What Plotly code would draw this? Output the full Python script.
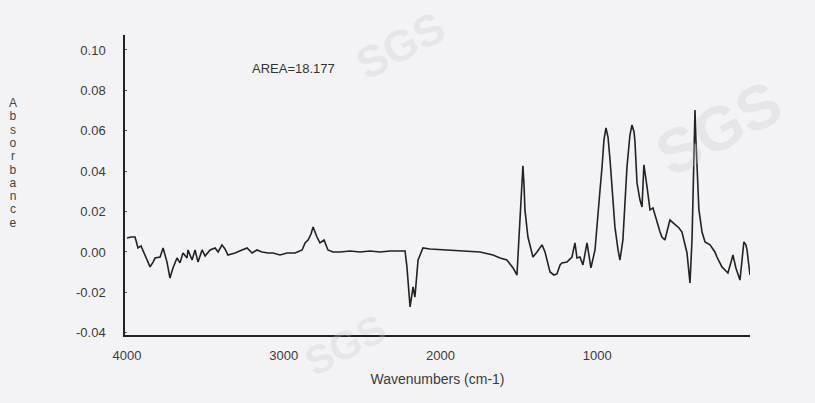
import plotly.graph_objects as go

# Wavenumber (cm-1) and absorbance values
wavenumbers = [4000, 3974, 3949, 3930, 3911, 3885, 3853, 3834, 3821, 3789, 3770, 3745, 3726, 3707,
               3681, 3662, 3643, 3617, 3611, 3585, 3566, 3547, 3521, 3502, 3470, 3438, 3419, 3394,
               3375, 3356, 3311, 3266, 3234, 3202, 3171, 3139, 3100, 3069, 3024, 2979, 2928, 2883,
               2864, 2845, 2826, 2813, 2801, 2788, 2769, 2743, 2718, 2686, 2641, 2577, 2513, 2450,
               2386, 2322, 2258, 2226, 2214, 2194, 2175, 2163, 2143, 2112, 2067, 1939, 1831, 1748,
               1665, 1620, 1576, 1537, 1512, 1499, 1486, 1474, 1467, 1461, 1442, 1422, 1410, 1384,
               1352, 1333, 1314, 1301, 1276, 1257, 1237, 1225, 1193, 1161, 1142, 1129, 1110, 1091,
               1065, 1040, 1014, 995, 982, 969, 957, 944, 931, 918, 906, 887, 867, 855, 836, 823,
               810, 791, 778, 765, 759, 746, 727, 714, 702, 682, 663, 644, 619, 599, 587, 568, 536,
               504, 478, 459, 440, 427, 408, 395, 389, 376, 370, 363, 351, 331, 312, 280, 249, 236,
               204, 185, 166, 146, 134, 115, 102, 89, 76, 64, 51, 44, 25]
absorbance = [0.0069, 0.0074, 0.0074, 0.0020, 0.0030, -0.0015, -0.0074, -0.0050, -0.0030, -0.0025,
              0.0020, -0.0050, -0.0129, -0.0079, -0.0030, -0.0054, -0.0005, -0.0030, 0.0010,
              -0.0040, 0.0010, -0.0050, 0.0010, -0.0020, 0.0010, 0.0020, 0.0000, 0.0035, 0.0015,
              -0.0015, -0.0005, 0.0010, 0.0020, -0.0005, 0.0010, 0.0000, -0.0005, -0.0005, -0.0015,
              -0.0005, -0.0005, 0.0010, 0.0045, 0.0059, 0.0089, 0.0124, 0.0099, 0.0074, 0.0045,
              0.0059, 0.0010, 0.0000, 0.0000, 0.0005, 0.0000, 0.0005, 0.0000, 0.0005, 0.0005,
              0.0005, -0.0074, -0.0272, -0.0173, -0.0223, -0.0040, 0.0020, 0.0015, 0.0010, 0.0005,
              0.0000, -0.0015, -0.0030, -0.0040, -0.0079, -0.0114, 0.0059, 0.0208, 0.0426, 0.0332,
              0.0208, 0.0074, 0.0010, -0.0025, 0.0000, 0.0035, 0.0000, -0.0064, -0.0099, -0.0114,
              -0.0109, -0.0064, -0.0054, -0.0050, -0.0025, 0.0045, -0.0030, -0.0025, -0.0064,
              0.0045, -0.0079, 0.0010, 0.0208, 0.0307, 0.0421, 0.0554, 0.0614, 0.0569, 0.0455,
              0.0342, 0.0124, 0.0010, -0.0040, 0.0059, 0.0257, 0.0421, 0.0579, 0.0629, 0.0594,
              0.0545, 0.0342, 0.0257, 0.0223, 0.0431, 0.0322, 0.0208, 0.0218, 0.0144, 0.0099,
              0.0074, 0.0059, 0.0158, 0.0134, 0.0119, 0.0099, 0.0035, -0.0005, -0.0153, 0.0059,
              0.0257, 0.0703, 0.0554, 0.0421, 0.0208, 0.0099, 0.0050, 0.0035, 0.0000, -0.0025,
              -0.0074, -0.0089, -0.0104, -0.0050, -0.0015, -0.0079, -0.0114, -0.0139, -0.0040,
              0.0050, 0.0035, 0.0010, -0.0114]

x_ticks = [4000, 3000, 2000, 1000]
y_ticks = [0.10, 0.08, 0.06, 0.04, 0.02, 0.00, -0.02, -0.04]
y_tick_labels = ["0.10", "0.08", "0.06", "0.04", "0.02", "0.00", "-0.02", "-0.04"]
y_title = "Absorbance"

bg = "#f3f3f5"
font_family = "Liberation Sans, Arial, sans-serif"

fig = go.Figure()
fig.add_trace(go.Scatter(x=wavenumbers, y=absorbance, mode="lines",
                         line=dict(color="#222222", width=1.6), showlegend=False))

fig.update_layout(
    width=815, height=403,
    margin=dict(l=125, r=65, t=35, b=68),
    paper_bgcolor=bg, plot_bgcolor=bg,
    font=dict(family=font_family, color="#3a3a3a", size=13),
    xaxis=dict(range=[4013, 25], tickvals=x_ticks, ticktext=[str(v) for v in x_ticks],
               showgrid=False, zeroline=False, showline=True, linecolor="#222", linewidth=1.5,
               ticks="", ticklen=0, tickfont=dict(size=13), ticklabelstandoff=8,
               title=dict(text="Wavenumbers (cm-1)", font=dict(size=14), standoff=12)),
    yaxis=dict(range=[-0.0411, 0.1074], tickvals=y_ticks, ticktext=y_tick_labels,
               showgrid=False, zeroline=False, showline=True, linecolor="#222", linewidth=1.5,
               ticks="inside", ticklen=2, tickcolor="#555", tickfont=dict(size=13),
               ticklabelstandoff=15),
)

# faint watermarks (drawn first so they sit beneath the other texts)
for wx, wy, ws in [(400, 46, 44), (718, 128, 62), (345, 345, 40)]:
    fig.add_annotation(xref="paper", yref="paper", x=(wx - 125) / 625, y=(335 - wy) / 300,
                       xanchor="center", yanchor="middle",
                       text="<b>SGS</b>", showarrow=False, textangle=-28,
                       font=dict(size=ws, color="rgba(200,200,208,0.30)", family="Liberation Sans, Arial"))

fig.add_annotation(xref="paper", yref="paper", x=(293 - 125) / 625, y=(335 - 68) / 300,
                   xanchor="center", yanchor="middle",
                   text="AREA=18.177", showarrow=False, font=dict(size=13, color="#333"))

for i, ch in enumerate(y_title):
    fig.add_annotation(xref="paper", yref="paper", x=(13 - 125) / 625, xanchor="center",
                       y=(335 - (103 + i * 13.3)) / 300, yanchor="middle",
                       text=ch, showarrow=False, height=12, width=12, borderpad=0,
                       font=dict(size=12, color="#444"))

fig.write_html("out.html", config={"displayModeBar": False},
               post_script="document.body.style.margin='0';document.body.style.background='#f3f3f5';")
